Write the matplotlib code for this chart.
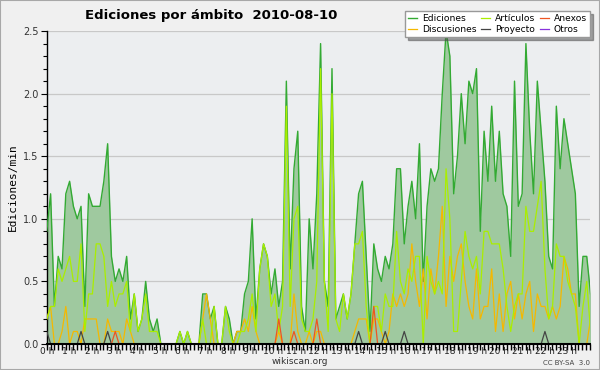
import matplotlib
matplotlib.use("Agg")
import matplotlib.pyplot as plt
from matplotlib.patches import Rectangle
import numpy as np

title = "Ediciones por ámbito  2010-08-10"
hour_labels = [f"{h} h" for h in range(24)]

ediciones = [
    0.9, 1.2, 0.3, 0.7, 0.6, 1.2, 1.3, 1.1, 1.0, 1.1, 0.3, 1.2, 1.1, 1.1, 1.1, 1.3, 1.6, 0.7, 0.5, 0.6, 0.5, 0.7, 0.2, 0.4,
    0.1, 0.2, 0.5, 0.2, 0.1, 0.2, 0.0, 0.0, 0.0, 0.0, 0.0, 0.1, 0.0, 0.1, 0.0, 0.0, 0.0, 0.4, 0.4, 0.2, 0.3, 0.0, 0.0, 0.3,
    0.2, 0.0, 0.1, 0.1, 0.4, 0.5, 1.0, 0.2, 0.6, 0.8, 0.7, 0.4, 0.6, 0.3, 0.5, 2.1, 0.6, 1.4, 1.7, 0.3, 0.1, 1.0, 0.6, 1.2,
    2.4, 0.5, 0.3, 2.2, 0.2, 0.3, 0.4, 0.2, 0.4, 0.8, 1.2, 1.3, 0.7, 0.1, 0.8, 0.6, 0.5, 0.7, 0.6, 0.8, 1.4, 1.4, 0.8, 1.1,
    1.3, 1.0, 1.6, 0.5, 1.1, 1.4, 1.3, 1.4, 2.0, 2.5, 2.3, 1.2, 1.5, 2.0, 1.6, 2.1, 2.0, 2.2, 0.9, 1.7, 1.3, 1.9, 1.3, 1.7,
    1.2, 1.1, 0.7, 2.1, 1.1, 1.2, 2.4, 1.7, 1.2, 2.1, 1.7, 1.3, 0.7, 0.6, 1.9, 1.4, 1.8, 1.6, 1.4, 1.2, 0.3, 0.7, 0.7, 0.4,
]
articulos = [
    0.2, 0.3, 0.3, 0.6, 0.5, 0.6, 0.7, 0.5, 0.5, 0.8, 0.1, 0.4, 0.4, 0.8, 0.8, 0.7, 0.3, 0.5, 0.3, 0.4, 0.4, 0.5, 0.1, 0.4,
    0.1, 0.2, 0.4, 0.1, 0.1, 0.1, 0.0, 0.0, 0.0, 0.0, 0.0, 0.1, 0.0, 0.1, 0.0, 0.0, 0.0, 0.2, 0.0, 0.0, 0.3, 0.0, 0.0, 0.3,
    0.1, 0.0, 0.0, 0.1, 0.1, 0.2, 0.4, 0.1, 0.6, 0.8, 0.7, 0.3, 0.4, 0.1, 0.3, 1.9, 0.3, 1.0, 1.1, 0.2, 0.1, 0.1, 0.2, 0.5,
    2.2, 0.5, 0.1, 2.0, 0.2, 0.1, 0.4, 0.2, 0.4, 0.8, 0.8, 0.9, 0.3, 0.0, 0.3, 0.3, 0.1, 0.4, 0.3, 0.3, 0.9, 0.5, 0.4, 0.6,
    0.5, 0.7, 0.7, 0.0, 0.7, 0.5, 0.4, 0.5, 0.4, 1.4, 1.0, 0.1, 0.1, 0.5, 0.9, 0.7, 0.6, 0.7, 0.4, 0.9, 0.9, 0.8, 0.8, 0.8,
    0.6, 0.3, 0.1, 0.3, 0.4, 0.4, 1.1, 0.9, 0.9, 1.1, 1.3, 0.6, 0.2, 0.3, 0.8, 0.7, 0.7, 0.5, 0.4, 0.3, 0.0, 0.3, 0.5, 0.1,
]
discusiones = [
    0.2, 0.3, 0.0, 0.0, 0.1, 0.3, 0.0, 0.1, 0.1, 0.0, 0.2, 0.2, 0.2, 0.2, 0.0, 0.0, 0.2, 0.1, 0.1, 0.1, 0.0, 0.2, 0.1, 0.0,
    0.0, 0.0, 0.0, 0.0, 0.0, 0.0, 0.0, 0.0, 0.0, 0.0, 0.0, 0.0, 0.0, 0.0, 0.0, 0.0, 0.0, 0.2, 0.4, 0.2, 0.0, 0.0, 0.0, 0.0,
    0.0, 0.0, 0.1, 0.1, 0.2, 0.1, 0.3, 0.1, 0.0, 0.0, 0.0, 0.0, 0.0, 0.1, 0.0, 0.0, 0.0, 0.4, 0.1, 0.0, 0.0, 0.1, 0.0, 0.1,
    0.1, 0.0, 0.0, 0.0, 0.0, 0.0, 0.0, 0.0, 0.0, 0.1, 0.2, 0.2, 0.2, 0.0, 0.2, 0.2, 0.1, 0.0, 0.1, 0.4, 0.3, 0.4, 0.3, 0.4,
    0.8, 0.5, 0.3, 0.6, 0.2, 0.6, 0.4, 0.7, 1.1, 0.3, 0.7, 0.5, 0.7, 0.8, 0.5, 0.3, 0.2, 0.6, 0.2, 0.3, 0.3, 0.6, 0.1, 0.4,
    0.1, 0.4, 0.5, 0.2, 0.4, 0.2, 0.4, 0.5, 0.1, 0.4, 0.3, 0.3, 0.2, 0.3, 0.2, 0.3, 0.7, 0.6, 0.4, 0.4, 0.0, 0.0, 0.0, 0.2,
]
anexos = [0.0] * 144
for k, v in [(18, 0.1), (61, 0.2), (65, 0.1), (71, 0.2), (86, 0.3)]:
    anexos[k] = v
proyecto = [0.0] * 144
for k in [0, 9, 16, 82, 89, 94, 131]:
    proyecto[k] = 0.1
otros = [0.0] * 144

hours = np.arange(144) / 6.0 * (24.0 / 23.8)

fig = plt.figure(figsize=(6, 3.7), dpi=100, facecolor="#f0f0f0")
fig.patches.append(Rectangle((0, 0), 1, 1, transform=fig.transFigure, fill=False,
                             edgecolor="#a8a8a8", linewidth=1.5))
ax = fig.add_axes([0.078, 0.0703, 0.905, 0.8457])
ax.set_facecolor("#eceef0")

ax.fill_between(hours, ediciones, 0, color="#9fc99f", linewidth=0, zorder=2)
ax.plot(hours, ediciones, color="#33aa33", lw=1.0, zorder=3, label="Ediciones")
ax.plot(hours, discusiones, color="#f5b800", lw=0.9, zorder=4, label="Discusiones")
ax.plot(hours, articulos, color="#aaee00", lw=0.9, zorder=5, label="Artículos")
ax.plot(hours, proyecto, color="#444444", lw=0.9, zorder=6, label="Proyecto")
ax.plot(hours, anexos, color="#ee5522", lw=0.9, zorder=7, label="Anexos")
ax.plot(hours, otros, color="#8833dd", lw=0.9, zorder=1, label="Otros")

ax.set_xlim(0, 24)
ax.set_ylim(0, 2.5)
ax.set_xticks(np.arange(24))
ax.set_xticklabels(hour_labels, fontsize=6.5, color="#222222")
ax.set_xticks(np.arange(0, 24.01, 1 / 6), minor=True)
ax.set_yticks(np.arange(0, 2.51, 0.5))
ax.set_yticklabels([f"{v:.1f}" for v in np.arange(0, 2.51, 0.5)], fontsize=7, color="#333333")
ax.set_yticks(np.arange(0, 2.51, 0.1), minor=True)
ax.tick_params(axis="x", which="both", direction="out", length=4, width=1, pad=-1.5, color="black")
ax.tick_params(axis="y", which="major", direction="out", length=4, width=0.8, pad=2)
ax.tick_params(axis="y", which="minor", direction="out", length=3, width=0.8)
ax.grid(axis="y", which="major", color="#c8c8c8", lw=0.9, zorder=0)
ax.set_axisbelow(True)
for s in ["top", "right"]:
    ax.spines[s].set_visible(False)
ax.spines["left"].set_linewidth(1.0)
ax.spines["bottom"].set_linewidth(1.5)
ax.spines["bottom"].set_zorder(10)

ax.set_ylabel("Ediciones/min", fontsize=8, family="DejaVu Sans Mono", labelpad=4)
fig.text(0.142, 0.958, title, fontsize=9.5, fontweight="bold", ha="left", va="center")
fig.text(0.5, 0.022, "wikiscan.org", fontsize=6.5, ha="center", va="center", color="#333333")
fig.text(0.983, 0.020, "CC BY-SA  3.0", fontsize=5, ha="right", va="center", color="#444444")

leg = fig.legend(loc="upper right", bbox_to_anchor=(0.983, 0.97), ncol=3, fontsize=6.6,
                 frameon=True, fancybox=False, shadow=True, handlelength=1.0,
                 handletextpad=0.5, columnspacing=0.5, labelspacing=0.2,
                 borderpad=0.35, borderaxespad=0.0)
leg.get_frame().set_edgecolor("#999999")
leg.get_frame().set_linewidth(1.0)
leg.get_frame().set_facecolor("white")
leg.set_zorder(20)

fig.savefig("out.png", dpi=100, facecolor=fig.get_facecolor())
